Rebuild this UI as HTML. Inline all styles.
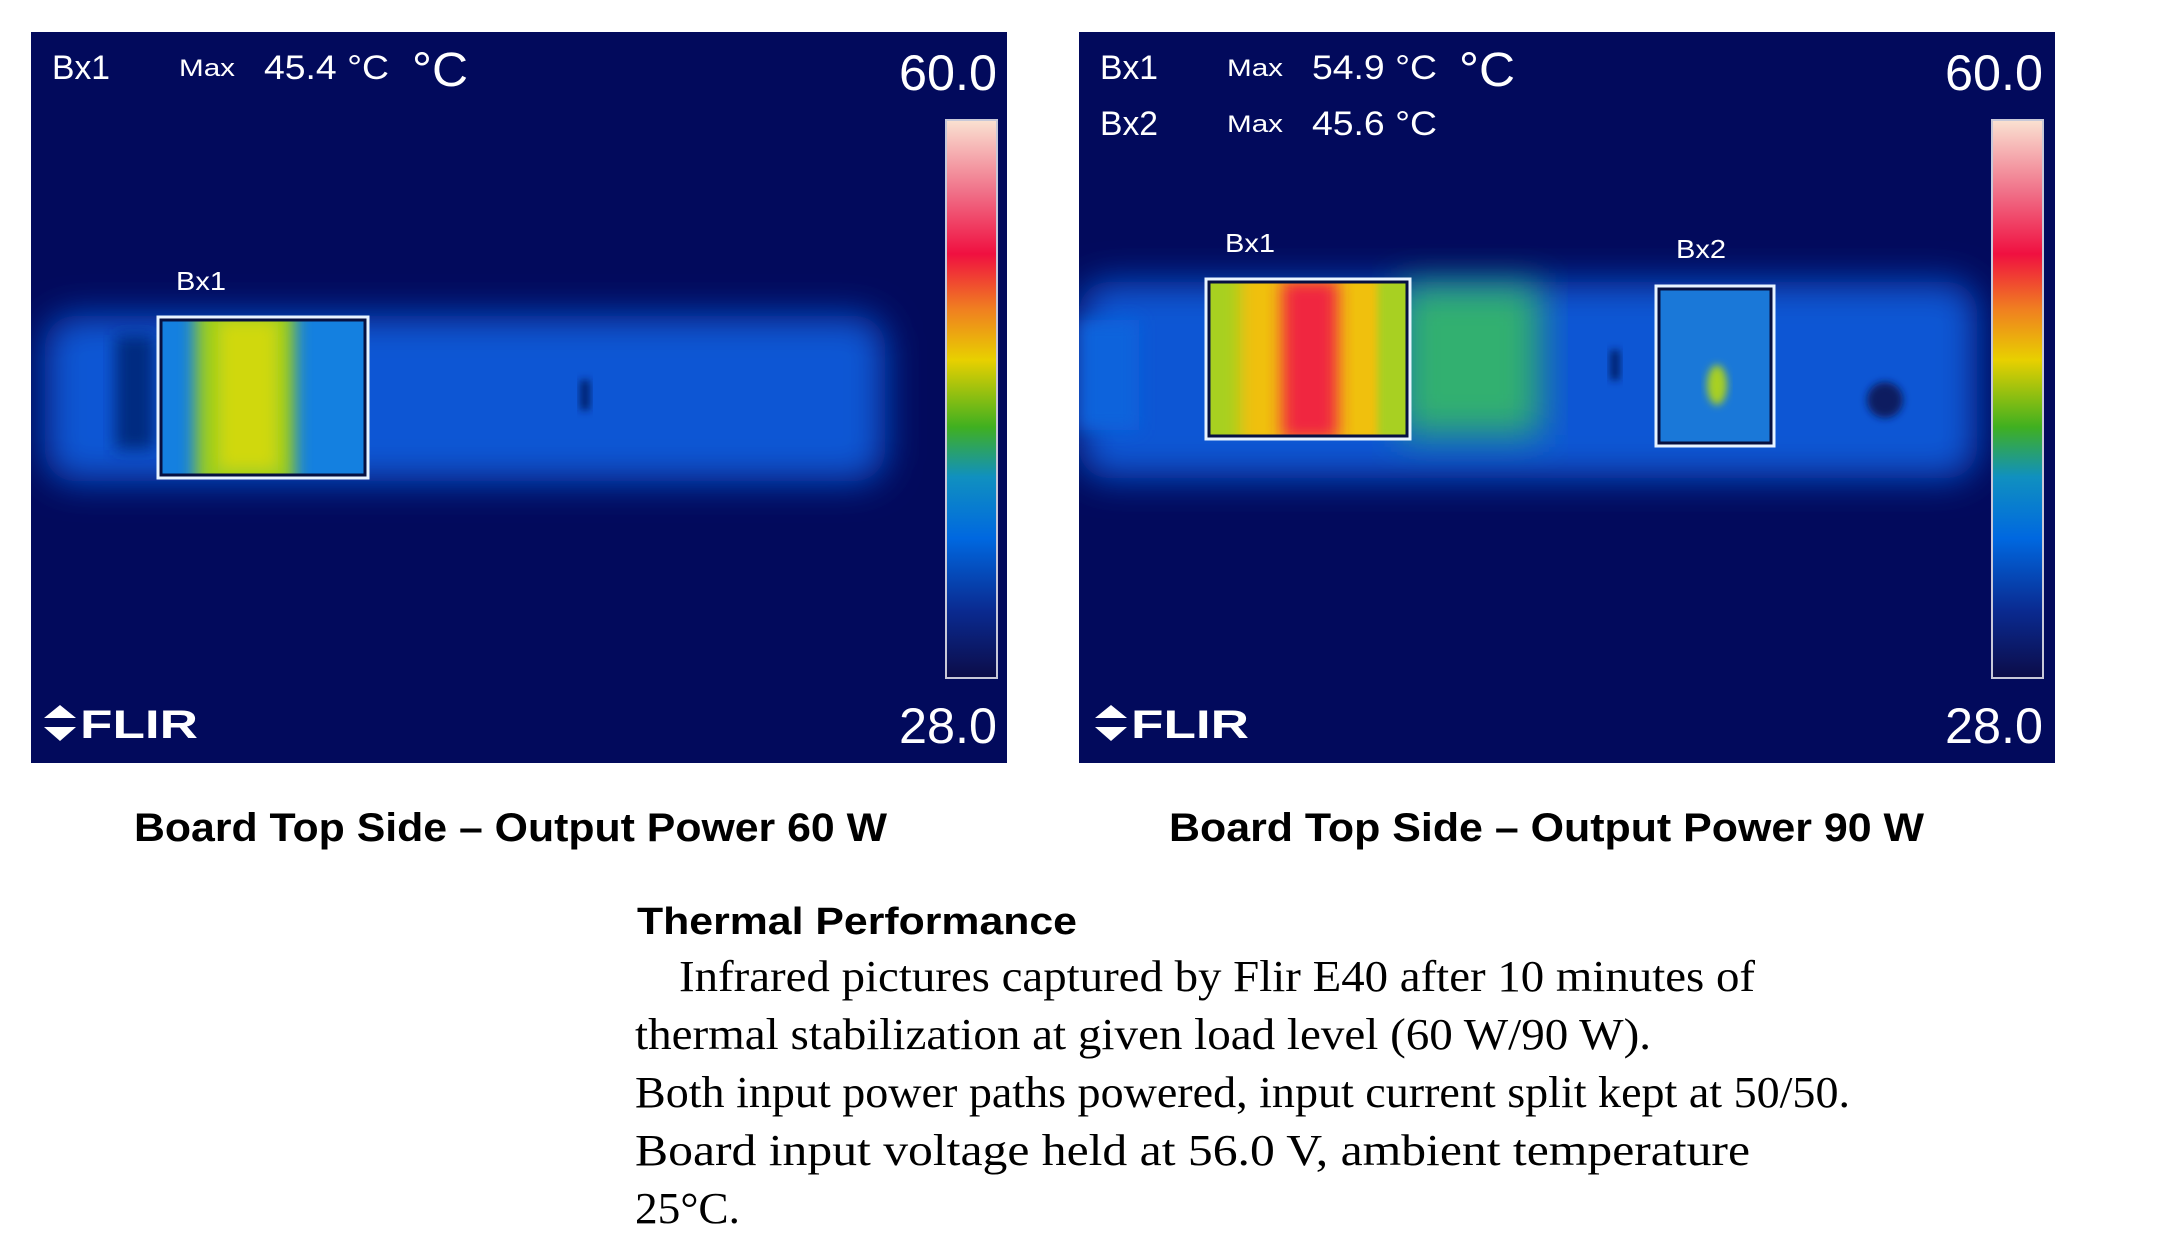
<!DOCTYPE html>
<html><head><meta charset="utf-8"><style>
html,body{margin:0;padding:0;background:#fff}
svg{display:block}
</style></head><body>
<svg width="2162" height="1260" viewBox="0 0 2162 1260" xmlns="http://www.w3.org/2000/svg">
<defs>
<linearGradient id="cb" x1="0" y1="1" x2="0" y2="0">
<stop offset="0" stop-color="#0c0c48"/>
<stop offset="0.12" stop-color="#0a2a90"/>
<stop offset="0.25" stop-color="#0068e0"/>
<stop offset="0.36" stop-color="#1090c0"/>
<stop offset="0.45" stop-color="#40b020"/>
<stop offset="0.57" stop-color="#e8d000"/>
<stop offset="0.66" stop-color="#f08020"/>
<stop offset="0.76" stop-color="#f01040"/>
<stop offset="0.87" stop-color="#f07088"/>
<stop offset="1" stop-color="#fae2d2"/>
</linearGradient>
<filter id="b20" x="-20%" y="-60%" width="140%" height="220%"><feGaussianBlur stdDeviation="18"/></filter>
<filter id="b8" x="-30%" y="-30%" width="160%" height="160%"><feGaussianBlur stdDeviation="8"/></filter>
<filter id="b4" x="-30%" y="-30%" width="160%" height="160%"><feGaussianBlur stdDeviation="4"/></filter>
<clipPath id="c1"><rect x="31" y="32" width="976" height="731"/></clipPath>
<clipPath id="c2"><rect x="1079" y="32" width="976" height="731"/></clipPath>
<clipPath id="bx1"><rect x="159" y="318" width="208" height="159"/></clipPath>
<clipPath id="bx2"><rect x="1207" y="280" width="202" height="158"/></clipPath>
<clipPath id="bx3"><rect x="1657" y="287" width="116" height="158"/></clipPath>
</defs>

<!-- LEFT PANEL -->
<g clip-path="url(#c1)">
<rect x="31" y="32" width="976" height="731" fill="#020a5c"/>
<rect x="45" y="316" width="840" height="165" rx="30" fill="#0a56d4" filter="url(#b20)"/>
<rect x="115" y="335" width="40" height="115" fill="#062a80" filter="url(#b8)"/>
<rect x="580" y="380" width="10" height="30" fill="#062070" filter="url(#b4)"/>
<g clip-path="url(#bx1)">
<rect x="159" y="318" width="208" height="159" fill="#1480e0"/>
<rect x="195" y="300" width="100" height="195" fill="#98cc20" filter="url(#b8)"/>
<rect x="218" y="320" width="60" height="150" fill="#d0d808" filter="url(#b8)"/>
</g>
<rect x="161" y="320" width="204" height="155" fill="none" stroke="#061040" stroke-width="3"/>
<rect x="158" y="317" width="210" height="161" fill="none" stroke="#e8f4ff" stroke-width="3"/>
<rect x="946" y="120" width="51" height="558" fill="url(#cb)" stroke="#c8c8d8" stroke-width="2"/>
<g font-family="Liberation Sans, sans-serif" fill="#fff">
<text x="52" y="79" font-size="34" textLength="58" lengthAdjust="spacingAndGlyphs">Bx1</text>
<text x="179" y="76" font-size="24" textLength="56" lengthAdjust="spacingAndGlyphs">Max</text>
<text x="264" y="79" font-size="34" textLength="125" lengthAdjust="spacingAndGlyphs">45.4 °C</text>
<text x="412" y="86" font-size="48" textLength="56" lengthAdjust="spacingAndGlyphs">°C</text>
<text x="899" y="90" font-size="50" textLength="98" lengthAdjust="spacingAndGlyphs">60.0</text>
<text x="899" y="743" font-size="50" textLength="98" lengthAdjust="spacingAndGlyphs">28.0</text>
<text x="176" y="290" font-size="26" textLength="50" lengthAdjust="spacingAndGlyphs">Bx1</text>
<text x="80" y="738" font-size="40" font-weight="bold" textLength="118" lengthAdjust="spacingAndGlyphs">FLIR</text>
<path d="M60 705 L76 718 H44 Z M44 727 H76 L60 741 Z" fill="#fff"/>
</g>
</g>

<!-- RIGHT PANEL -->
<g clip-path="url(#c2)">
<rect x="1079" y="32" width="976" height="731" fill="#020a5c"/>
<rect x="1079" y="282" width="898" height="196" rx="30" fill="#0a56d4" filter="url(#b20)"/>
<rect x="1400" y="285" width="140" height="150" fill="#30b070" filter="url(#b20)"/>
<rect x="1079" y="320" width="60" height="110" fill="#1064dc" filter="url(#b8)"/>
<circle cx="1885" cy="400" r="18" fill="#081a60" filter="url(#b4)"/>
<rect x="1610" y="350" width="10" height="30" fill="#062070" filter="url(#b4)"/>
<g clip-path="url(#bx2)">
<rect x="1207" y="280" width="202" height="158" fill="#a8d020"/>
<rect x="1240" y="270" width="150" height="178" fill="#f0c010" filter="url(#b8)"/>
<rect x="1282" y="280" width="56" height="160" fill="#f02840" filter="url(#b8)"/>
<rect x="1378" y="280" width="34" height="158" fill="#a8d020" filter="url(#b4)"/>
</g>
<g clip-path="url(#bx3)">
<rect x="1657" y="287" width="116" height="158" fill="#1a78d8"/>
<ellipse cx="1717" cy="385" rx="10" ry="20" fill="#a8d020" filter="url(#b4)"/>
</g>
<rect x="1209" y="282" width="198" height="154" fill="none" stroke="#061040" stroke-width="3"/>
<rect x="1659" y="289" width="112" height="154" fill="none" stroke="#061040" stroke-width="3"/>
<rect x="1206" y="279" width="204" height="160" fill="none" stroke="#e8f4ff" stroke-width="3"/>
<rect x="1656" y="286" width="118" height="160" fill="none" stroke="#e8f4ff" stroke-width="3"/>
<rect x="1992" y="120" width="51" height="558" fill="url(#cb)" stroke="#c8c8d8" stroke-width="2"/>
<g font-family="Liberation Sans, sans-serif" fill="#fff">
<text x="1100" y="79" font-size="34" textLength="58" lengthAdjust="spacingAndGlyphs">Bx1</text>
<text x="1227" y="76" font-size="24" textLength="56" lengthAdjust="spacingAndGlyphs">Max</text>
<text x="1312" y="79" font-size="34" textLength="125" lengthAdjust="spacingAndGlyphs">54.9 °C</text>
<text x="1459" y="86" font-size="48" textLength="56" lengthAdjust="spacingAndGlyphs">°C</text>
<text x="1100" y="135" font-size="34" textLength="58" lengthAdjust="spacingAndGlyphs">Bx2</text>
<text x="1227" y="132" font-size="24" textLength="56" lengthAdjust="spacingAndGlyphs">Max</text>
<text x="1312" y="135" font-size="34" textLength="125" lengthAdjust="spacingAndGlyphs">45.6 °C</text>
<text x="1945" y="90" font-size="50" textLength="98" lengthAdjust="spacingAndGlyphs">60.0</text>
<text x="1945" y="743" font-size="50" textLength="98" lengthAdjust="spacingAndGlyphs">28.0</text>
<text x="1225" y="252" font-size="26" textLength="50" lengthAdjust="spacingAndGlyphs">Bx1</text>
<text x="1676" y="258" font-size="26" textLength="50" lengthAdjust="spacingAndGlyphs">Bx2</text>
<text x="1131" y="738" font-size="40" font-weight="bold" textLength="118" lengthAdjust="spacingAndGlyphs">FLIR</text>
<path d="M1111 705 L1127 718 H1095 Z M1095 727 H1127 L1111 741 Z" fill="#fff"/>
</g>
</g>

<!-- CAPTIONS -->
<g font-family="Liberation Sans, sans-serif" font-weight="bold" fill="#000" font-size="40">
<text x="134" y="841" textLength="753" lengthAdjust="spacingAndGlyphs">Board Top Side – Output Power 60 W</text>
<text x="1169" y="841" textLength="755" lengthAdjust="spacingAndGlyphs">Board Top Side – Output Power 90 W</text>
<text x="637" y="934" font-size="38" textLength="440" lengthAdjust="spacingAndGlyphs">Thermal Performance</text>
</g>
<g font-family="Liberation Serif, serif" fill="#000" font-size="44">
<text x="679" y="991" textLength="1076" lengthAdjust="spacingAndGlyphs">Infrared pictures captured by Flir E40 after 10 minutes of</text>
<text x="635" y="1049" textLength="1016" lengthAdjust="spacingAndGlyphs">thermal stabilization at given load level (60 W/90 W).</text>
<text x="635" y="1107" textLength="1215" lengthAdjust="spacingAndGlyphs">Both input power paths powered, input current split kept at 50/50.</text>
<text x="635" y="1165" textLength="1115" lengthAdjust="spacingAndGlyphs">Board  input  voltage  held  at  56.0 V,  ambient  temperature</text>
<text x="635" y="1223" textLength="105" lengthAdjust="spacingAndGlyphs">25°C.</text>
</g>
</svg>
</body></html>
